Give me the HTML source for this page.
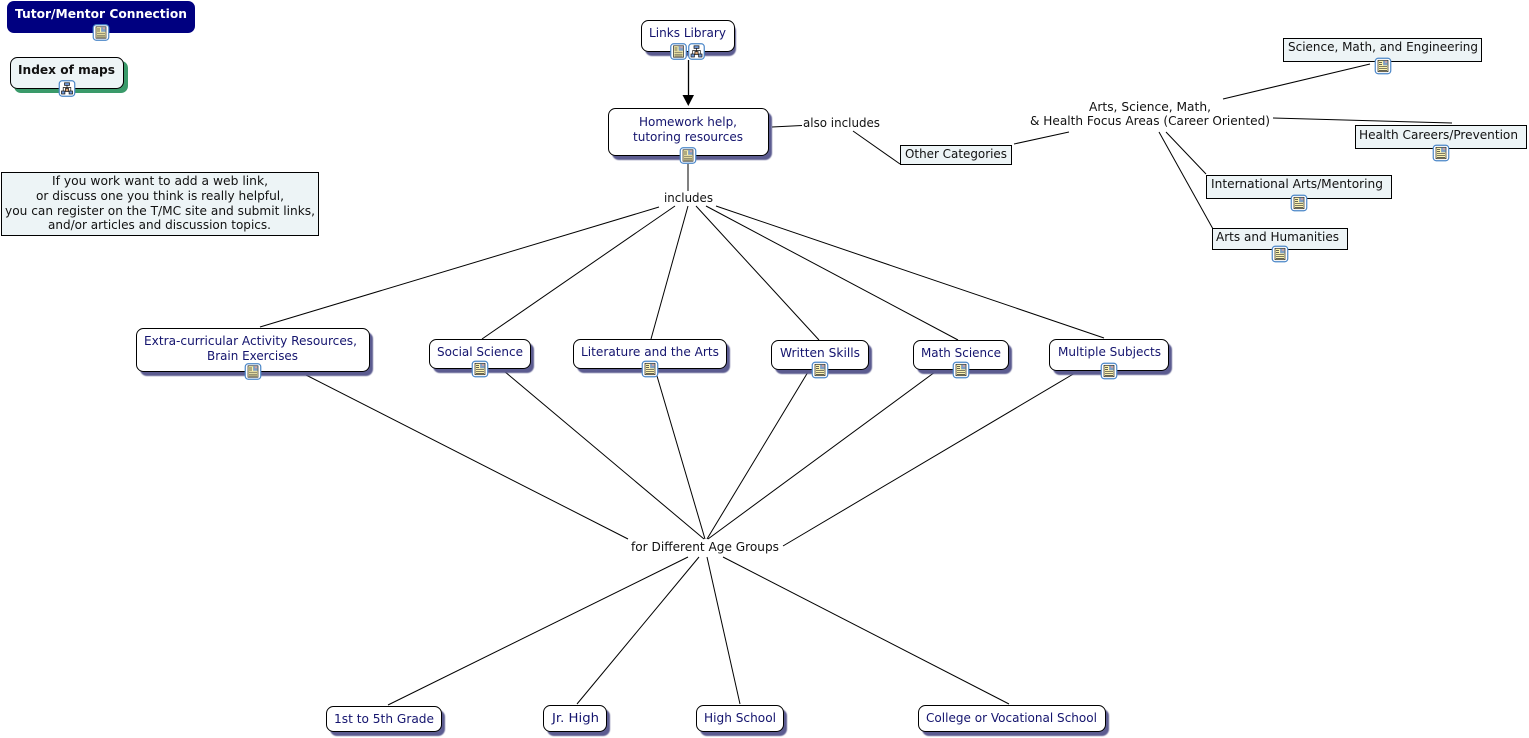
<!DOCTYPE html>
<html><head><meta charset="utf-8"><style>
html,body{margin:0;padding:0;background:#fff;width:1529px;height:738px;overflow:hidden}
svg{display:block}
text{font-family:"DejaVu Sans","Liberation Sans",sans-serif;font-size:12px;fill:#111}
.b{fill:#14146e}
.n{fill:#fff;stroke:#000;stroke-width:1}
.s{fill:#5c5c90;filter:url(#sb)}
.r{fill:#edf4f6;stroke:#000;stroke-width:1}
.l{stroke:#000;stroke-width:1;fill:none}
</style></head><body>
<svg width="1529" height="738" viewBox="0 0 1529 738" xmlns="http://www.w3.org/2000/svg">
<defs>
<filter id="sb" x="-5%" y="-10%" width="110%" height="120%"><feGaussianBlur stdDeviation="0.6"/></filter>
<symbol id="doc" viewBox="0 0 17 17">
<rect x=".75" y=".75" width="15.500" height="15.500" rx="3" fill="#fff" stroke="#4a86c8" stroke-width="1.2"/>
<rect x="3.500" y="2.800" width="10" height="11.400" fill="#fbf3b0" stroke="#222" stroke-width=".7"/>
<rect x="8.600" y="3.200" width="4.500" height="4.600" fill="#7f9fc4"/>
<rect x="10.500" y="3.600" width="2" height="1.600" fill="#d9a0a0"/>
<path d="M4.500 5h3M4.500 7h3M4.500 9.200h8M4.500 11.200h8M4.500 13h8" stroke="#333" stroke-width=".7"/>
</symbol>
<symbol id="map" viewBox="0 0 17 17">
<rect x=".75" y=".75" width="15.500" height="15.500" rx="3" fill="#fff" stroke="#4a86c8" stroke-width="1.2"/>
<rect x="6" y="2.800" width="5" height="2.600" fill="#6f97d6" stroke="#111" stroke-width=".7"/>
<rect x="3" y="11" width="3.400" height="3" fill="#6f97d6" stroke="#111" stroke-width=".7"/>
<rect x="10.600" y="11" width="3.400" height="3" fill="#6f97d6" stroke="#111" stroke-width=".7"/>
<rect x="6.900" y="8.500" width="3.200" height="3" fill="#d8a070" stroke="#111" stroke-width=".7"/>
<path d="M8.500 5.400v3.100M4.700 11V7.500h7.600V11" stroke="#111" stroke-width=".7" fill="none"/>
</symbol>
</defs>

<!-- connectors -->
<g class="l">
<path d="M688.500 60V97" stroke-width="1.300"/>
<path d="M688 164V191"/>
<path d="M772 127L802 125.500"/>
<path d="M853 131L900 164"/>
<path d="M1014 144L1069 132"/>
<path d="M1223 99L1370 64"/>
<path d="M1273 118L1452 123"/>
<path d="M1166 132L1206 174"/>
<path d="M1159 132L1213 229"/>
<path d="M659 207L260 327"/>
<path d="M675 206L482 339"/>
<path d="M688 206L651 339"/>
<path d="M696 206L819 340"/>
<path d="M706 206L958 340"/>
<path d="M716 206L1104 338"/>
<path d="M306 375L628 539"/>
<path d="M504 371L704 539"/>
<path d="M657 376L705 539"/>
<path d="M808 372L707 539"/>
<path d="M935 372L708 539"/>
<path d="M1075 373L783 546"/>
<path d="M688 557L388 705"/>
<path d="M699 557L577 704"/>
<path d="M707 557L740 704"/>
<path d="M723 557L1009 704"/>
</g>
<path d="M682.500 95H694L688.300 106Z" fill="#000"/>

<!-- rounded nodes -->
<rect x="7" y="1" width="188" height="32" rx="7" fill="#000080"/>
<text x="15" y="18" textLength="172" lengthAdjust="spacingAndGlyphs" style="font-weight:bold;fill:#fff">Tutor/Mentor Connection</text>
<use href="#doc" x="92.500" y="24" width="17" height="17"/>

<rect x="14" y="61" width="114" height="32" rx="7" fill="#3a9a6a"/>
<rect x="10.500" y="57.500" width="113" height="31" rx="7" fill="#edf4f6" stroke="#000"/>
<text x="18" y="74" textLength="97" lengthAdjust="spacingAndGlyphs" style="font-weight:bold">Index of maps</text>
<use href="#map" x="58.500" y="80" width="17" height="17"/>

<g>
<rect class="s" x="645" y="24" width="91" height="32" rx="7"/>
<rect class="n" x="641.500" y="20.500" width="93" height="31" rx="7"/>
<text class="b" x="649" y="37" textLength="77" lengthAdjust="spacingAndGlyphs">Links Library</text>
<use href="#doc" x="670" y="43" width="17" height="17"/>
<use href="#map" x="688" y="43" width="17" height="17"/>

<rect class="s" x="612" y="112" width="160" height="48" rx="7"/>
<rect class="n" x="608.500" y="108.500" width="160" height="47" rx="7"/>
<text class="b" x="639" y="126" textLength="98" lengthAdjust="spacingAndGlyphs">Homework help,</text>
<text class="b" x="633" y="141" textLength="110" lengthAdjust="spacingAndGlyphs">tutoring resources</text>
<use href="#doc" x="679.500" y="147" width="17" height="17"/>

<rect class="s" x="140" y="332" width="233" height="44" rx="7"/>
<rect class="n" x="136.500" y="328.500" width="233" height="43" rx="7"/>
<text class="b" x="144" y="345" textLength="213" lengthAdjust="spacingAndGlyphs">Extra-curricular Activity Resources,</text>
<text class="b" x="207" y="360" textLength="91" lengthAdjust="spacingAndGlyphs">Brain Exercises</text>
<use href="#doc" x="244.500" y="363" width="17" height="17"/>

<rect class="s" x="433" y="343" width="101" height="30" rx="7"/>
<rect class="n" x="429.500" y="339.500" width="101" height="29" rx="7"/>
<text class="b" x="437" y="356" textLength="86" lengthAdjust="spacingAndGlyphs">Social Science</text>
<use href="#doc" x="471.500" y="360.500" width="17" height="17"/>

<rect class="s" x="577" y="343" width="153" height="30" rx="7"/>
<rect class="n" x="573.500" y="339.500" width="153" height="29" rx="7"/>
<text class="b" x="581" y="356" textLength="138" lengthAdjust="spacingAndGlyphs">Literature and the Arts</text>
<use href="#doc" x="641.500" y="360.500" width="17" height="17"/>

<rect class="s" x="775" y="344" width="97" height="30" rx="7"/>
<rect class="n" x="771.500" y="340.500" width="97" height="29" rx="7"/>
<text class="b" x="780" y="357" textLength="80" lengthAdjust="spacingAndGlyphs">Written Skills</text>
<use href="#doc" x="811.500" y="361.500" width="17" height="17"/>

<rect class="s" x="917" y="344" width="95" height="30" rx="7"/>
<rect class="n" x="913.500" y="340.500" width="95" height="29" rx="7"/>
<text class="b" x="921" y="357" textLength="80" lengthAdjust="spacingAndGlyphs">Math Science</text>
<use href="#doc" x="952.500" y="361.500" width="17" height="17"/>

<rect class="s" x="1053" y="343" width="119" height="32" rx="7"/>
<rect class="n" x="1049.500" y="339.500" width="119" height="31" rx="7"/>
<text class="b" x="1058" y="356" textLength="103" lengthAdjust="spacingAndGlyphs">Multiple Subjects</text>
<use href="#doc" x="1100.500" y="362.500" width="17" height="17"/>

<rect class="s" x="330" y="710" width="115" height="26" rx="7"/>
<rect class="n" x="326.500" y="706.500" width="115" height="25" rx="7"/>
<text class="b" x="334" y="723" textLength="100" lengthAdjust="spacingAndGlyphs">1st to 5th Grade</text>

<rect class="s" x="547" y="709" width="63" height="27" rx="7"/>
<rect class="n" x="543.500" y="705.500" width="63" height="26" rx="7"/>
<text class="b" x="552" y="722" textLength="47" lengthAdjust="spacingAndGlyphs">Jr. High</text>

<rect class="s" x="700" y="709" width="87" height="27" rx="7"/>
<rect class="n" x="696.500" y="705.500" width="87" height="26" rx="7"/>
<text class="b" x="704" y="722" textLength="72" lengthAdjust="spacingAndGlyphs">High School</text>

<rect class="s" x="922" y="709" width="187" height="27" rx="7"/>
<rect class="n" x="918.500" y="705.500" width="187" height="26" rx="7"/>
<text class="b" x="926" y="722" textLength="171" lengthAdjust="spacingAndGlyphs">College or Vocational School</text>
</g>

<!-- rectangular nodes -->
<rect class="r" x="1.500" y="172.500" width="317" height="63"/>
<text x="52" y="185" textLength="216" lengthAdjust="spacingAndGlyphs">If you work want to add a web link,</text>
<text x="36" y="200" textLength="248" lengthAdjust="spacingAndGlyphs">or discuss one you think is really helpful,</text>
<text x="5" y="215" textLength="310" lengthAdjust="spacingAndGlyphs">you can register on the T/MC site and submit links,</text>
<text x="48" y="229" textLength="223" lengthAdjust="spacingAndGlyphs">and/or articles and discussion topics.</text>

<rect class="r" x="900.500" y="145.500" width="111" height="19"/>
<text x="905" y="158" textLength="102" lengthAdjust="spacingAndGlyphs">Other Categories</text>

<rect class="r" x="1283.500" y="38.500" width="198" height="23"/>
<text x="1288" y="51" textLength="190" lengthAdjust="spacingAndGlyphs">Science, Math, and Engineering</text>
<use href="#doc" x="1374.500" y="57.500" width="17" height="17"/>

<rect class="r" x="1355.500" y="125.500" width="171" height="23"/>
<text x="1359" y="139" textLength="159" lengthAdjust="spacingAndGlyphs">Health Careers/Prevention</text>
<use href="#doc" x="1432.500" y="144.500" width="17" height="17"/>

<rect class="r" x="1206.500" y="175.500" width="185" height="23"/>
<text x="1211" y="188" textLength="172" lengthAdjust="spacingAndGlyphs">International Arts/Mentoring</text>
<use href="#doc" x="1290.500" y="194.500" width="17" height="17"/>

<rect class="r" x="1212.500" y="228.500" width="135" height="21"/>
<text x="1216" y="241" textLength="123" lengthAdjust="spacingAndGlyphs">Arts and Humanities</text>
<use href="#doc" x="1271.500" y="245.500" width="17" height="17"/>

<!-- linking labels -->
<text x="664" y="202" textLength="49" lengthAdjust="spacingAndGlyphs">includes</text>
<text x="803" y="127" textLength="77" lengthAdjust="spacingAndGlyphs">also includes</text>
<text x="1089" y="111" textLength="122" lengthAdjust="spacingAndGlyphs">Arts, Science, Math,</text>
<text x="1030" y="125" textLength="240" lengthAdjust="spacingAndGlyphs">&amp; Health Focus Areas (Career Oriented)</text>
<text x="631" y="551" textLength="148" lengthAdjust="spacingAndGlyphs">for Different Age Groups</text>
</svg>
</body></html>
